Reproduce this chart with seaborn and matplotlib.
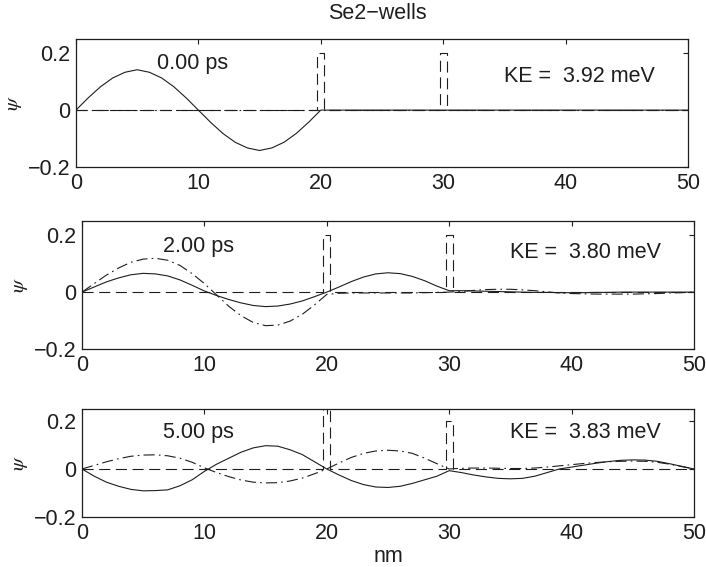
import numpy as np
import pandas as pd
import seaborn as sns
import matplotlib.pyplot as plt

# position along the structure (nm)
nm = list(range(51))

times = ['0.00 ps', '2.00 ps', '5.00 ps']
kinetic = ['3.92', '3.80', '3.83']

re_0 = [0.0, 0.043, 0.082, 0.113, 0.133, 0.142, 0.133, 0.113, 0.082, 0.043,
        0.0, -0.043, -0.082, -0.113, -0.133, -0.142, -0.133, -0.113, -0.082, -0.043,
        0.0, 0.0, 0.0, 0.0, 0.0, 0.0, 0.0, 0.0, 0.0, 0.0,
        0.0, 0.0, 0.0, 0.0, 0.0, 0.0, 0.0, 0.0, 0.0, 0.0,
        0.0, 0.0, 0.0, 0.0, 0.0, 0.0, 0.0, 0.0, 0.0, 0.0, 0.0]
im_0 = [0.0, 0.0, 0.0, 0.0, 0.0, 0.0, 0.0, 0.0, 0.0, 0.0,
        0.0, 0.0, 0.0, 0.0, 0.0, 0.0, 0.0, 0.0, 0.0, 0.0,
        0.0, 0.0, 0.0, 0.0, 0.0, 0.0, 0.0, 0.0, 0.0, 0.0,
        0.0, 0.0, 0.0, 0.0, 0.0, 0.0, 0.0, 0.0, 0.0, 0.0,
        0.0, 0.0, 0.0, 0.0, 0.0, 0.0, 0.0, 0.0, 0.0, 0.0, 0.0]

re_2 = [0.0, 0.018, 0.036, 0.050, 0.061, 0.066, 0.064, 0.057, 0.043, 0.024,
        0.004, -0.012, -0.026, -0.038, -0.047, -0.051, -0.049, -0.042, -0.031, -0.016,
        0.0, 0.018, 0.037, 0.053, 0.064, 0.068, 0.065, 0.055, 0.040, 0.021,
        0.005, 0.005, 0.004, 0.003, 0.002, 0.001, 0.0, -0.001, -0.001, -0.002,
        -0.002, -0.002, -0.001, -0.001, 0.0, 0.0, 0.0, 0.0, 0.0, 0.0, 0.0]
im_2 = [0.0, 0.030, 0.060, 0.085, 0.105, 0.116, 0.119, 0.112, 0.094, 0.065,
        0.030, -0.010, -0.050, -0.083, -0.107, -0.118, -0.116, -0.102, -0.078, -0.045,
        -0.008, -0.004, -0.003, -0.003, -0.003, -0.003, -0.003, -0.003, -0.002, -0.001,
        0.0, 0.003, 0.006, 0.009, 0.010, 0.010, 0.008, 0.005, 0.001, -0.003,
        -0.005, -0.006, -0.007, -0.007, -0.007, -0.007, -0.006, -0.005, -0.003, -0.002, 0.0]

re_5 = [0.0, -0.030, -0.055, -0.072, -0.085, -0.091, -0.090, -0.087, -0.070, -0.045,
        -0.010, 0.020, 0.045, 0.070, 0.088, 0.097, 0.095, 0.080, 0.060, 0.030,
        0.0, -0.025, -0.048, -0.065, -0.075, -0.077, -0.072, -0.060, -0.045, -0.030,
        -0.007, -0.015, -0.025, -0.033, -0.039, -0.041, -0.039, -0.030, -0.015, 0.0,
        0.008, 0.016, 0.024, 0.031, 0.036, 0.038, 0.037, 0.032, 0.022, 0.011, 0.0]
im_5 = [0.0, 0.015, 0.030, 0.043, 0.053, 0.058, 0.059, 0.055, 0.045, 0.028,
        0.005, -0.015, -0.032, -0.046, -0.055, -0.058, -0.057, -0.050, -0.038, -0.020,
        0.0, 0.025, 0.048, 0.065, 0.075, 0.078, 0.075, 0.065, 0.045, 0.022,
        0.0, 0.003, 0.004, 0.004, 0.003, 0.002, 0.002, 0.004, 0.008, 0.013,
        0.018, 0.023, 0.027, 0.030, 0.032, 0.033, 0.032, 0.028, 0.020, 0.010, 0.0]

# double-barrier potential (dashed)
barrier_nm = [0, 19.7, 19.7, 20.3, 20.3, 29.7, 29.7, 30.3, 30.3, 50]
barrier_0 = [0, 0, 0.2, 0.2, 0, 0, 0.2, 0.2, 0, 0]
barrier_2 = [0, 0, 0.2, 0.2, 0, 0, 0.2, 0.2, 0, 0]
barrier_5 = [0, 0, 0.3, 0.3, 0, 0, 0.2, 0.2, 0, 0]

real_parts = [re_0, re_2, re_5]
imag_parts = [im_0, im_2, im_5]
barriers = [barrier_0, barrier_2, barrier_5]

sns.set_style('white')
plt.rcParams['font.family'] = ['Liberation Sans', 'DejaVu Sans']
plt.rcParams['lines.scale_dashes'] = False
plt.rcParams['mathtext.fontset'] = 'stix'

ink = '#1e1e1e'
fig = plt.figure(figsize=(7.06, 5.67), dpi=100)

# axes boxes in figure fraction (left, bottom, width, height)
boxes = [(0.1076, 0.7055, 0.8669, 0.2257),
         (0.1161, 0.3845, 0.8669, 0.2257),
         (0.1161, 0.0882, 0.8669, 0.1905)]
ps_y = [0.165, 0.160, 0.152]
ke_y = [0.118, 0.138, 0.152]

for i in range(3):
    ax = fig.add_axes(boxes[i])
    df = pd.concat([
        pd.DataFrame({'nm': nm, 'psi': real_parts[i], 'part': 're'}),
        pd.DataFrame({'nm': nm, 'psi': imag_parts[i], 'part': 'im'}),
        pd.DataFrame({'nm': barrier_nm, 'psi': barriers[i], 'part': 'V'}),
    ], ignore_index=True)
    sns.lineplot(data=df, x='nm', y='psi', style='part', ax=ax,
                 dashes={'re': '', 'im': (8, 3, 1.2, 3), 'V': (8, 4)},
                 color=ink, linewidth=0.8, estimator=None, sort=False, legend=False)

    ax.set_xlim(0, 50)
    ax.set_ylim(-0.2, 0.25)
    ax.set_xticks([0, 10, 20, 30, 40, 50])
    ax.set_yticks([-0.2, 0, 0.2])
    ax.set_yticklabels(['\u22120.2', '0', '0.2'])
    ax.tick_params(direction='in', top=True, right=True, length=3.5, width=0.8,
                   color=ink, labelcolor=ink, labelsize=15.5, pad=4)
    for s in ax.spines.values():
        s.set_color(ink)
        s.set_linewidth(0.9)
    ax.set_xlabel('')
    ax.set_ylabel(r'$\psi$', fontsize=15, color=ink)
    ax.yaxis.set_label_coords(-0.085, 0.5)

    ax.text(6.6, ps_y[i], times[i], fontsize=15.5, color=ink, va='center')
    ax.text(35.0, ke_y[i], 'KE =  ' + kinetic[i] + ' meV', fontsize=15.5,
            color=ink, va='center')

    if i == 2:
        ax.set_xlabel('nm', fontsize=15.5, color=ink, labelpad=2)

fig.text(0.534, 0.977, 'Se2\u2212wells', fontsize=15.5, color=ink,
         ha='center', va='center')

plt.savefig('out.png', dpi=100)
